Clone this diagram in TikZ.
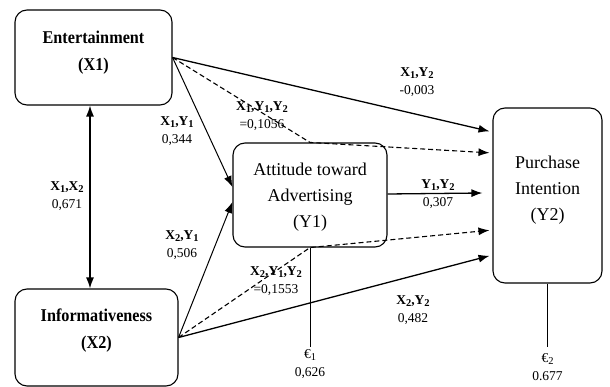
\documentclass[tikz,border=0pt]{standalone}
\usepackage{fontspec}
\setmainfont{Liberation Serif}
\usetikzlibrary{arrows.meta,calc}
\newcommand\sbx[1]{\raisebox{-0.3ex}{\fontsize{10.5}{10.5}\selectfont #1}}
\newcommand\cnd[1]{\scalebox{0.9}[1]{#1}}
\begin{document}
\begin{tikzpicture}[x=1pt,y=-1pt,
  box/.style={draw,rounded corners=12pt,line width=1.1pt,inner sep=0pt},
  boxtext/.style={align=center,font=\fontsize{18}{26}\selectfont,inner sep=0pt},
  boxtextb/.style={align=center,font=\fontsize{18}{27}\selectfont\bfseries,inner sep=0pt},
  lab/.style={align=center,font=\fontsize{13.5}{18}\selectfont,inner sep=0pt},
  tip/.tip={Latex[length=11pt,width=8pt]},
  arr/.style={-tip,line width=1.3pt},
  thinarr/.style={-tip,line width=1pt},
  dasharr/.style={-tip,line width=1.1pt,dash pattern=on 5pt off 3pt},
  errline/.style={line width=1pt}
]
\useasboundingbox (0,0) rectangle (610,387);

% boxes
\node[box,minimum width=157pt,minimum height=95pt] (X1) at (93.5,57.5) {};
\node[box,minimum width=163pt,minimum height=97pt] (X2) at (96.5,337.5) {};
\node[box,minimum width=154pt,minimum height=104pt] (Y1) at (310,195) {};
\node[box,minimum width=109pt,minimum height=175pt] (Y2) at (547.5,195.5) {};

% box texts
\node[boxtextb] (X1t) at (93.5,53) {\cnd{Entertainment}\\\cnd{(X1)}};
\node[boxtextb] (X2t) at (96.5,331) {\cnd{Informativeness}\\\cnd{(X2)}};
\node[boxtext] (Y1t) at (310,197) {Attitude toward\\Advertising\\(Y1)};
\node[boxtext] (Y2t) at (547.5,190) {Purchase\\Intention\\(Y2)};

% connectors
\draw[tip-tip,line width=1.3pt] ($(X1.south)+(-3.5,0)$) -- ($(X2.north)+(-6.5,0)$);
\draw[thinarr] (X1.east) -- ($(Y1.west)+(0,-8)$);
\draw[thinarr] (X2.east) -- ($(Y1.west)+(0,7)$);
\draw[arr,shorten >=3pt] (X1.east) -- ($(Y2.west)+(0,-63.5)$);
\draw[arr,shorten >=3pt] (X2.east) -- ($(Y2.west)+(0,59.5)$);
\draw[arr] ($(Y1.east)+(0,-1)$) -- ($(Y2.west)+(-10,-2.5)$);
\draw[dasharr,shorten >=3pt] (X1.east) -- (Y1.north) -- ($(Y2.west)+(0,-42.5)$);
\draw[dasharr,shorten >=3pt] (X2.east) -- (Y1.south) -- ($(Y2.west)+(0,34.5)$);

% error terms
\coordinate (e1) at (310,347);
\coordinate (e2) at (547.5,347);
\draw[errline] (Y1.south) -- (e1);
\draw[errline] (Y2.south) -- (e2);

% labels
\node[lab] (lx1x2) at (67,196) {\textbf{X\sbx{1},X\sbx{2}}\\0,671};
\node[lab] (lx1y1) at (177,131) {\textbf{X\sbx{1},Y\sbx{1}}\\0,344};
\node[lab] (lx2y1) at (182,245) {\textbf{X\sbx{2},Y\sbx{1}}\\0,506};
\node[lab] (lx1y1y2) at (262,116.5) {\textbf{X\sbx{1},Y\sbx{1},Y\sbx{2}}\\=0,1056};
\node[lab] (lx1y2) at (417,82.5) {\textbf{X\sbx{1},Y\sbx{2}}\\-0,003};
\node[lab] (ly1y2) at (438,194) {\textbf{Y\sbx{1},Y\sbx{2}}\\0,307};
\node[lab] (lx2y1y2) at (276,281) {\textbf{X\sbx{2},Y\sbx{1},Y\sbx{2}}\\=0,1553};
\node[lab] (lx2y2) at (413,310.5) {\textbf{X\sbx{2},Y\sbx{2}}\\0,482};
\node[lab] (le1) at (310,364.5) {€\sbx{1}\\0,626};
\node[lab] (le2) at (547.5,367) {€\sbx{2}\\0.677};
\end{tikzpicture}
\end{document}
